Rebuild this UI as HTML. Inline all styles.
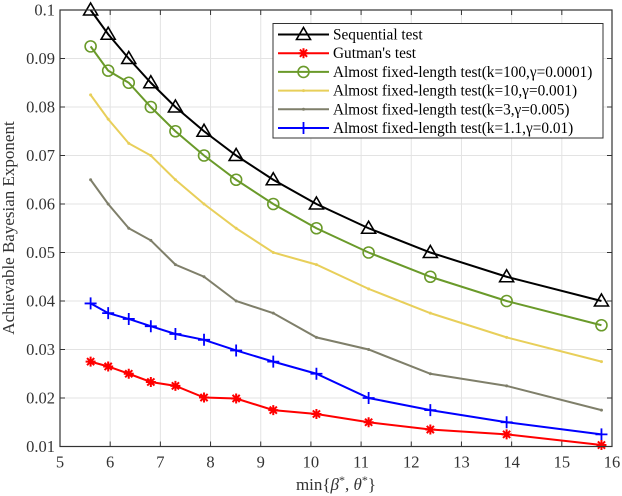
<!DOCTYPE html>
<html><head><meta charset="utf-8"><style>
body{margin:0;background:#fff}
svg{display:block;font-family:"Liberation Serif",serif}
</style></head><body>
<svg id="chart" width="622" height="496" xmlns="http://www.w3.org/2000/svg">
<g id="grid"></g>
<g id="series"></g>
<g id="axes"></g>
<g id="legend"></g>
</svg>
<script>
const xs = [5.61,5.96,6.37,6.81,7.30,7.87,8.51,9.25,10.11,11.15,12.38,13.9,15.79];
const seqVals = [0.1,0.095,0.09,0.085,0.08,0.075,0.07,0.065,0.06,0.055,0.05,0.045,0.04];
const gutVals = [0.0275,0.0265,0.025,0.0233,0.0225,0.0201,0.0199,0.0175,0.0167,0.015,0.0135,0.0125,0.0103];
const k100Vals = [0.0925,0.0875,0.085,0.08,0.075,0.07,0.065,0.06,0.055,0.05,0.045,0.04,0.035];
const k10Vals = [0.0825,0.0775,0.0725,0.07,0.065,0.06,0.055,0.05,0.0475,0.0425,0.0375,0.0325,0.0275];
const k3Vals = [0.065,0.06,0.055,0.0525,0.0475,0.045,0.04,0.0375,0.0325,0.03,0.025,0.0225,0.0175];
const k11Vals = [0.0395,0.0375,0.0363,0.0348,0.0332,0.032,0.0298,0.0275,0.025,0.02,0.0175,0.015,0.0125];
const xTicks = [5,6,7,8,9,10,11,12,13,14,15,16];
const yTicks = [0.01,0.02,0.03,0.04,0.05,0.06,0.07,0.08,0.09,0.1];
const yTickLabels = ["0.01","0.02","0.03","0.04","0.05","0.06","0.07","0.08","0.09","0.1"];
const legendLabels = ["Sequential test","Gutman's test","Almost fixed-length test(k=100,\u03b3=0.0001)","Almost fixed-length test(k=10,\u03b3=0.001)","Almost fixed-length test(k=3,\u03b3=0.005)","Almost fixed-length test(k=1.1,\u03b3=0.01)"];

const L=60,R=612,T=10,B=446.5;
const sx=v=>L+(v-5)/(16-5)*(R-L);
const sy=v=>B-(v-0.01)/(0.1-0.01)*(B-T);
const NS="http://www.w3.org/2000/svg";
function mk(tag,attrs,parent){const e=document.createElementNS(NS,tag);for(const k in attrs)e.setAttribute(k,attrs[k]);parent.appendChild(e);return e;}
const grid=document.getElementById('grid'),axes=document.getElementById('axes'),ser=document.getElementById('series'),leg=document.getElementById('legend');
mk('rect',{x:L,y:T,width:R-L,height:B-T,fill:'#fff'},grid);
xTicks.forEach(t=>{
  const l=mk('line',{x1:sx(t),x2:sx(t),y1:T,y2:B,stroke:'#e3e3e3','stroke-width':1},grid);
  
  
  mk('line',{x1:sx(t),x2:sx(t),y1:B,y2:B-5,stroke:'#333'},axes);
  mk('line',{x1:sx(t),x2:sx(t),y1:T,y2:T+5,stroke:'#333'},axes);
  const tx=mk('text',{x:sx(t),y:B+21,'text-anchor':'middle','font-size':16.5,fill:'#333'},axes);
  tx.textContent=t;
  
  
});
yTicks.forEach((t,i)=>{
  const l=mk('line',{x1:L,x2:R,y1:sy(t),y2:sy(t),stroke:'#e3e3e3','stroke-width':1},grid);
  
  
  mk('line',{x1:L,x2:L+5,y1:sy(t),y2:sy(t),stroke:'#333'},axes);
  mk('line',{x1:R,x2:R-5,y1:sy(t),y2:sy(t),stroke:'#333'},axes);
  const tx=mk('text',{x:L-5,y:sy(t)+5.5,'text-anchor':'end','font-size':16.5,fill:'#333'},axes);
  tx.textContent=yTickLabels[i];
  
  
});
mk('rect',{x:L,y:T,width:R-L,height:B-T,fill:'none',stroke:'#333','stroke-width':1.2},axes);
const xt=mk('text',{x:336,y:490,'text-anchor':'middle','font-size':17,fill:'#333'},axes);
xt.innerHTML='min{<tspan font-style="italic">β</tspan><tspan font-size="12" dy="-6">*</tspan><tspan dy="6">, </tspan><tspan font-style="italic">θ</tspan><tspan font-size="12" dy="-6">*</tspan><tspan dy="6">}</tspan>';


const yt=mk('text',{x:0,y:0,'text-anchor':'middle','font-size':17,fill:'#333',transform:'translate(14,228) rotate(-90)'},axes);
yt.textContent='Achievable Bayesian Exponent';



function marker(type,x,y,color,g){
  if(type==='tri'){mk('path',{d:`M${x},${y-7}L${x+7},${y+5}L${x-7},${y+5}Z`,fill:'none',stroke:color,'stroke-width':1.6},g);}
  else if(type==='circ'){mk('circle',{cx:x,cy:y,r:5.5,fill:'none',stroke:color,'stroke-width':1.6},g);}
  else if(type==='plus'){mk('path',{d:`M${x-6},${y}H${x+6}M${x},${y-6}V${y+6}`,stroke:color,'stroke-width':1.8},g);}
  else if(type==='star'){mk('path',{d:`M${x-5},${y}H${x+5}M${x},${y-5}V${y+5}M${x-3.6},${y-3.6}L${x+3.6},${y+3.6}M${x-3.6},${y+3.6}L${x+3.6},${y-3.6}`,stroke:color,'stroke-width':2},g);}
  else if(type==='dot'){mk('circle',{cx:x,cy:y,r:1.5,fill:color},g);}
}
const seriesDefs=[
  {vals:seqVals,color:'#000000',m:'tri',name:'series-sequential'},
  {vals:gutVals,color:'#ff0000',m:'star',name:'series-gutman'},
  {vals:k100Vals,color:'#6a9a2a',m:'circ',name:'series-k100'},
  {vals:k10Vals,color:'#e8cf5a',m:'dot',name:'series-k10'},
  {vals:k3Vals,color:'#7f7f6a',m:'dot',name:'series-k3'},
  {vals:k11Vals,color:'#0000ff',m:'plus',name:'series-k1-1'}
];
[3,4,2,5,1,0].forEach(i=>{
  const s=seriesDefs[i];
  const g=mk('g',{},ser);
  
  
  const pts=xs.map((x,j)=>sx(x)+','+sy(s.vals[j])).join(' ');
  mk('polyline',{points:pts,fill:'none',stroke:s.color,'stroke-width':2},g);
  xs.forEach((x,j)=>marker(s.m,sx(x),sy(s.vals[j]),s.color,g));
});
const lb=mk('rect',{x:273,y:23.5,width:330,height:114.5,fill:'#fff',stroke:'#333','stroke-width':1},leg);


seriesDefs.forEach((s,i)=>{
  const y=34.5+i*18.7;
  const g=mk('g',{},leg);
  
  
  mk('line',{x1:278,x2:329,y1:y,y2:y,stroke:s.color,'stroke-width':2},g);
  marker(s.m,303.5,y,s.color,g);
  const t=mk('text',{x:333,y:y+5,'font-size':15.3,fill:'#000'},g);
  t.textContent=legendLabels[i];
});
</script>
</body></html>
